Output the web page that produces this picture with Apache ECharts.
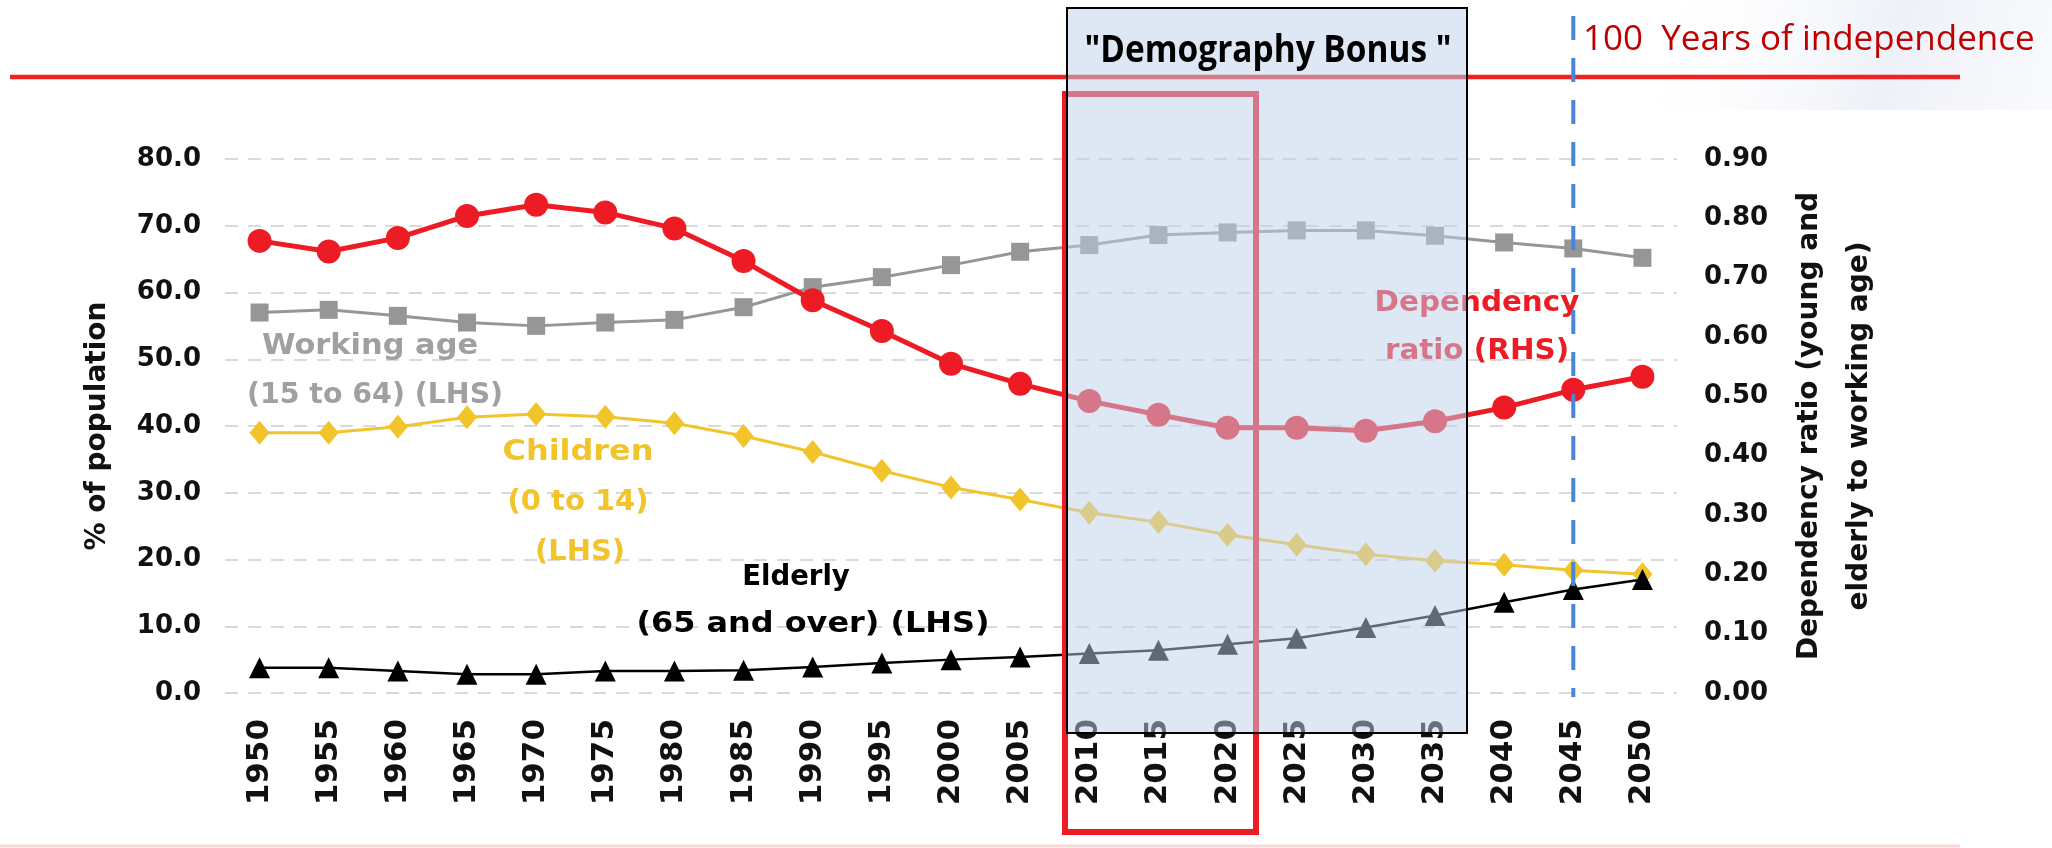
<!DOCTYPE html>
<html><head><meta charset="utf-8">
<script src="https://cdn.jsdelivr.net/npm/echarts@6/dist/echarts.min.js"></script>
<style>html,body{margin:0;padding:0;background:#fff}#c{width:2052px;height:848px}</style>
</head><body><div id="c"></div>
<script>
// ---- data ----
const years = ['1950','1955','1960','1965','1970','1975','1980','1985','1990','1995','2000','2005','2010','2015','2020','2025','2030','2035','2040','2045','2050'];
const workingAge = [57.0, 57.4, 56.5, 55.5, 55.0, 55.5, 55.9, 57.8, 60.8, 62.3, 64.1, 66.1, 67.1, 68.6, 69.0, 69.3, 69.3, 68.5, 67.5, 66.6, 65.2];
const children = [39.0, 39.0, 39.9, 41.3, 41.8, 41.4, 40.4, 38.5, 36.1, 33.3, 30.8, 29.0, 27.0, 25.6, 23.7, 22.2, 20.8, 19.8, 19.2, 18.4, 17.8];
const elderly = [3.8, 3.8, 3.3, 2.8, 2.8, 3.3, 3.3, 3.4, 3.9, 4.5, 5.0, 5.4, 5.9, 6.4, 7.3, 8.2, 9.8, 11.6, 13.6, 15.5, 17.0];
const dependencyRatio = [0.762, 0.744, 0.767, 0.804, 0.823, 0.810, 0.783, 0.728, 0.662, 0.610, 0.555, 0.521, 0.492, 0.469, 0.447, 0.447, 0.442, 0.458, 0.481, 0.511, 0.533];
const leftAxis = {min: 0, max: 80, interval: 10};
const rightAxis = {min: 0, max: 0.9, interval: 0.1};
const independenceYear = '2045';

const chart = echarts.init(document.getElementById('c'));
const FONT = '"DejaVu Sans", sans-serif';
const axisLabelStyle = {fontFamily: FONT, fontWeight: 'bold', fontSize: 26, color: '#111'};

chart.setOption({
  animation: false,
  backgroundColor: '#ffffff',
  grid: {left: 225, right: 375, top: 159, bottom: 155},
  xAxis: {
    type: 'category', data: years, boundaryGap: true,
    axisLine: {show: false}, axisTick: {show: false},
    axisLabel: {rotate: 90, margin: 26, fontFamily: FONT, fontWeight: 'bold', fontSize: 31, color: '#111'}
  },
  yAxis: [
    {
      type: 'value', min: leftAxis.min, max: leftAxis.max, interval: leftAxis.interval,
      axisLine: {show: false}, axisTick: {show: false},
      axisLabel: Object.assign({margin: 24, formatter: v => v.toFixed(1)}, axisLabelStyle),
      splitLine: {show: true, lineStyle: {color: '#d9d9d9', width: 2, type: [13, 10]}},
      name: '% of population', nameLocation: 'middle', nameRotate: 90, nameGap: 113,
      nameTextStyle: {fontFamily: FONT, fontWeight: 'bold', fontSize: 28, color: '#111'}
    },
    {
      type: 'value', position: 'right', min: rightAxis.min, max: rightAxis.max, interval: rightAxis.interval,
      axisLine: {show: false}, axisTick: {show: false},
      axisLabel: Object.assign({margin: 27, formatter: v => v.toFixed(2)}, axisLabelStyle),
      splitLine: {show: false},
      name: 'Dependency ratio (young and\nelderly to working age)', nameLocation: 'middle', nameRotate: 90, nameGap: 108,
      nameTextStyle: {fontFamily: FONT, fontWeight: 'bold', fontSize: 28, color: '#111', lineHeight: 50}
    }
  ],
  series: [
    {name: 'Working age', type: 'line', yAxisIndex: 0, data: workingAge, symbol: 'rect', symbolSize: 18,
     lineStyle: {color: '#969696', width: 3}, itemStyle: {color: '#969696'}},
    {name: 'Children', type: 'line', yAxisIndex: 0, data: children, symbol: 'diamond', symbolSize: [20, 24],
     lineStyle: {color: '#f2c42b', width: 3}, itemStyle: {color: '#f2c42b'}},
    {name: 'Elderly', type: 'line', yAxisIndex: 0, data: elderly, symbol: 'triangle', symbolSize: 21,
     lineStyle: {color: '#000', width: 2.5}, itemStyle: {color: '#000'}},
    {name: 'Dependency ratio', type: 'line', yAxisIndex: 1, data: dependencyRatio, symbol: 'circle', symbolSize: 24,
     lineStyle: {color: '#ed1c24', width: 5}, itemStyle: {color: '#ed1c24'}}
  ]
});

const xLine = chart.convertToPixel({xAxisIndex: 0}, independenceYear);

function txt(text, x, y, color, size, z, sx) {
  return {type: 'text', x: x, y: y, z: z || 40, scaleX: sx || 1.05,
    style: {text: text, fill: color, font: 'bold ' + size + 'px ' + FONT, textAlign: 'center', textVerticalAlign: 'middle'}};
}

chart.setOption({
  graphic: [
    {type: 'rect', z: 0, shape: {x: 1640, y: 0, width: 412, height: 110},
     style: {fill: new echarts.graphic.LinearGradient(0, 0, 1, 1, [
       {offset: 0, color: 'rgba(255,255,255,0)'}, {offset: 0.6, color: 'rgba(226,231,243,0.6)'}, {offset: 1, color: 'rgba(236,239,247,0.3)'}])}},
    {type: 'line', z: 1, shape: {x1: 0, y1: 846, x2: 1960, y2: 846}, style: {stroke: '#f7d9d9', lineWidth: 3}},
    {type: 'line', z: 50, shape: {x1: 10, y1: 77, x2: 1960, y2: 77}, style: {stroke: '#ee2222', lineWidth: 4.5}},
    {type: 'rect', z: 50, shape: {x: 1065, y: 94, width: 191, height: 738}, style: {fill: 'none', stroke: '#ed1c24', lineWidth: 6}},
    txt('Dependency', 1477, 304, '#ed1c24', 28, 50, 1.05),
    txt('ratio (RHS)', 1477, 352, '#ed1c24', 28, 50, 1.05),
    {type: 'rect', z: 60, shape: {x: 1067, y: 8, width: 400, height: 725},
     style: {fill: 'rgba(190,210,236,0.5)', stroke: '#000', lineWidth: 2}},
    {type: 'text', z: 70, x: 1268, y: 51, scaleX: 0.88,
     style: {text: '"Demography Bonus "', fill: '#000', font: 'bold 38px "Open Sans", sans-serif', textAlign: 'center', textVerticalAlign: 'middle'}},
    {type: 'line', z: 70, shape: {x1: xLine, y1: 16, x2: xLine, y2: 697},
     style: {stroke: '#4a86d8', lineWidth: 4, lineDash: [24, 18]}},
    {type: 'text', z: 70, x: 1583, y: 40,
     style: {text: '100  Years of independence', fill: '#c00000', font: '35px "Open Sans", sans-serif', textAlign: 'left', textVerticalAlign: 'middle'}},
    txt('Working age', 370, 346, '#a0a0a0', 29),
    txt('(15 to 64) (LHS)', 375, 395, '#a0a0a0', 29, 40, 0.98),
    txt('Children', 578, 452, '#f2c42b', 29, 40, 1.1),
    txt('(0 to 14)', 578, 502, '#f2c42b', 29, 40, 1.0),
    txt('(LHS)', 580, 552, '#f2c42b', 29, 40, 1.0),
    txt('Elderly', 796, 577, '#000', 29, 40, 0.95),
    txt('(65 and over) (LHS)', 813, 624, '#000', 29, 40, 1.1)
  ]
});
</script>
</body></html>
